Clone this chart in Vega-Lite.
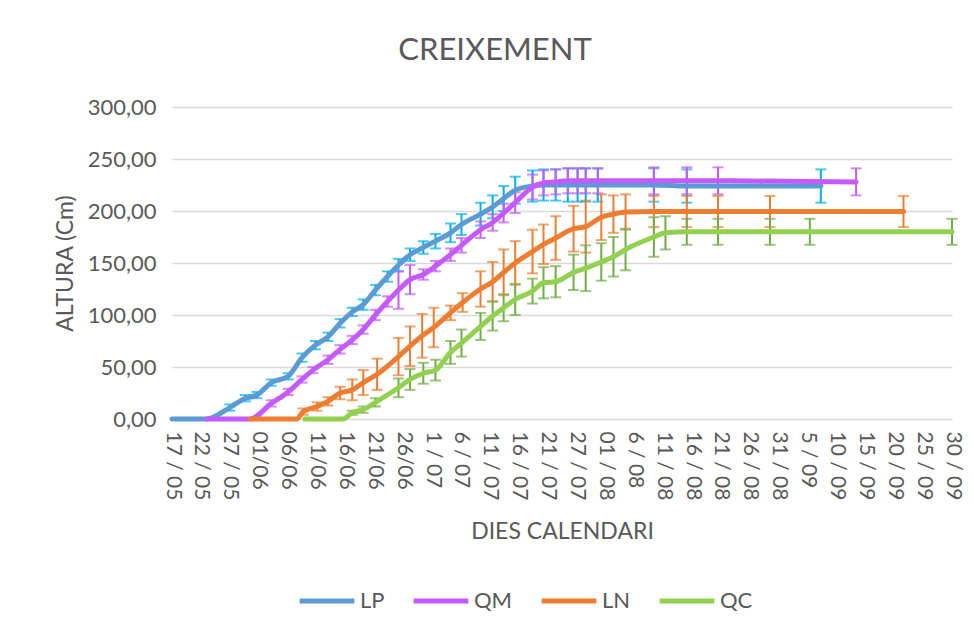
{
  "$schema": "https://vega.github.io/schema/vega-lite/v6.json",
  "width": 780,
  "height": 312,
  "autosize": {"type": "none"},
  "padding": {"left": 172, "top": 107, "right": 22, "bottom": 212},
  "background": "white",
  "config": {"font": "Lato", "view": {"stroke": null}},
  "title": {"text": "CREIXEMENT", "fontSize": 31, "fontWeight": "normal", "color": "#595959", "offset": 29, "dx": -67, "anchor": "middle"},
  "datasets": {
    "rows": [
      {"s": "LP", "d": 0, "v": 0, "e": 0},
      {"s": "LP", "d": 6, "v": 0, "e": 0},
      {"s": "LP", "d": 10, "v": 11, "e": 3},
      {"s": "LP", "d": 12.7, "v": 20, "e": 3},
      {"s": "LP", "d": 14.7, "v": 23, "e": 3},
      {"s": "LP", "d": 17.2, "v": 35, "e": 3},
      {"s": "LP", "d": 20.1, "v": 41, "e": 3},
      {"s": "LP", "d": 22.5, "v": 59, "e": 4},
      {"s": "LP", "d": 24.8, "v": 71, "e": 4},
      {"s": "LP", "d": 27, "v": 79, "e": 4},
      {"s": "LP", "d": 29.1, "v": 92, "e": 4},
      {"s": "LP", "d": 31.2, "v": 103, "e": 4},
      {"s": "LP", "d": 33.1, "v": 110, "e": 5},
      {"s": "LP", "d": 35.2, "v": 124, "e": 5},
      {"s": "LP", "d": 37.3, "v": 137, "e": 5},
      {"s": "LP", "d": 39.2, "v": 148, "e": 6},
      {"s": "LP", "d": 41.2, "v": 158, "e": 6},
      {"s": "LP", "d": 43.5, "v": 165, "e": 6},
      {"s": "LP", "d": 45.6, "v": 171, "e": 7},
      {"s": "LP", "d": 48.2, "v": 179, "e": 9},
      {"s": "LP", "d": 50.1, "v": 187, "e": 10},
      {"s": "LP", "d": 53.4, "v": 197, "e": 11},
      {"s": "LP", "d": 55.5, "v": 204, "e": 11},
      {"s": "LP", "d": 57.4, "v": 212, "e": 12},
      {"s": "LP", "d": 59.4, "v": 220, "e": 13},
      {"s": "LP", "d": 62.4, "v": 224, "e": 15},
      {"s": "LP", "d": 64.3, "v": 225, "e": 15},
      {"s": "LP", "d": 66.4, "v": 225, "e": 15},
      {"s": "LP", "d": 68.5, "v": 225, "e": 16},
      {"s": "LP", "d": 70.2, "v": 225, "e": 16},
      {"s": "LP", "d": 71.6, "v": 225, "e": 16},
      {"s": "LP", "d": 73.7, "v": 225, "e": 16},
      {"s": "LP", "d": 83.4, "v": 225, "e": 16},
      {"s": "LP", "d": 89.1, "v": 224, "e": 16},
      {"s": "LP", "d": 112.3, "v": 224, "e": 16},
      {"s": "QM", "d": 6, "v": 0, "e": 0},
      {"s": "QM", "d": 13.5, "v": 0, "e": 0},
      {"s": "QM", "d": 17.2, "v": 15, "e": 3},
      {"s": "QM", "d": 20.1, "v": 26, "e": 3},
      {"s": "QM", "d": 22.5, "v": 38, "e": 3},
      {"s": "QM", "d": 24.4, "v": 47, "e": 3},
      {"s": "QM", "d": 27, "v": 57, "e": 4},
      {"s": "QM", "d": 29.1, "v": 67, "e": 4},
      {"s": "QM", "d": 31.2, "v": 76, "e": 4},
      {"s": "QM", "d": 33.1, "v": 86, "e": 4},
      {"s": "QM", "d": 35.2, "v": 100, "e": 5},
      {"s": "QM", "d": 37.3, "v": 113, "e": 5},
      {"s": "QM", "d": 39.2, "v": 124, "e": 18},
      {"s": "QM", "d": 41.2, "v": 134, "e": 14},
      {"s": "QM", "d": 43.5, "v": 139, "e": 5},
      {"s": "QM", "d": 45.6, "v": 147, "e": 5},
      {"s": "QM", "d": 48.2, "v": 158, "e": 6},
      {"s": "QM", "d": 50.1, "v": 167, "e": 7},
      {"s": "QM", "d": 53.4, "v": 182, "e": 8},
      {"s": "QM", "d": 55.5, "v": 189, "e": 8},
      {"s": "QM", "d": 57.4, "v": 198, "e": 9},
      {"s": "QM", "d": 59.4, "v": 208, "e": 10},
      {"s": "QM", "d": 62.4, "v": 223, "e": 12},
      {"s": "QM", "d": 64.3, "v": 227, "e": 12},
      {"s": "QM", "d": 66.4, "v": 228, "e": 12},
      {"s": "QM", "d": 68.5, "v": 229, "e": 12},
      {"s": "QM", "d": 70.2, "v": 229, "e": 12},
      {"s": "QM", "d": 71.6, "v": 229, "e": 12},
      {"s": "QM", "d": 73.7, "v": 229, "e": 12},
      {"s": "QM", "d": 83.4, "v": 229, "e": 13},
      {"s": "QM", "d": 89.1, "v": 229, "e": 13},
      {"s": "QM", "d": 94.5, "v": 229, "e": 13},
      {"s": "QM", "d": 118.4, "v": 228, "e": 13},
      {"s": "LN", "d": 13.5, "v": 0, "e": 0},
      {"s": "LN", "d": 21.6, "v": 0, "e": 0},
      {"s": "LN", "d": 22.7, "v": 7, "e": 3},
      {"s": "LN", "d": 25.1, "v": 12, "e": 4},
      {"s": "LN", "d": 27, "v": 17, "e": 4},
      {"s": "LN", "d": 29.1, "v": 25, "e": 6},
      {"s": "LN", "d": 31.2, "v": 28, "e": 10},
      {"s": "LN", "d": 33.1, "v": 35, "e": 12},
      {"s": "LN", "d": 35.5, "v": 43, "e": 15},
      {"s": "LN", "d": 39.2, "v": 60, "e": 18},
      {"s": "LN", "d": 41.2, "v": 70, "e": 19},
      {"s": "LN", "d": 43.3, "v": 80, "e": 21},
      {"s": "LN", "d": 45.3, "v": 88, "e": 19},
      {"s": "LN", "d": 48.2, "v": 102, "e": 7},
      {"s": "LN", "d": 50.3, "v": 112, "e": 9},
      {"s": "LN", "d": 53.4, "v": 125, "e": 17},
      {"s": "LN", "d": 55.5, "v": 132, "e": 19},
      {"s": "LN", "d": 57.4, "v": 141, "e": 22},
      {"s": "LN", "d": 59.4, "v": 150, "e": 21},
      {"s": "LN", "d": 62.4, "v": 161, "e": 21},
      {"s": "LN", "d": 64.3, "v": 168, "e": 19},
      {"s": "LN", "d": 66.4, "v": 174, "e": 21},
      {"s": "LN", "d": 69.5, "v": 183, "e": 22},
      {"s": "LN", "d": 71.6, "v": 185, "e": 25},
      {"s": "LN", "d": 74.3, "v": 194, "e": 22},
      {"s": "LN", "d": 76.4, "v": 197, "e": 18},
      {"s": "LN", "d": 78.5, "v": 199, "e": 17},
      {"s": "LN", "d": 83.4, "v": 199.5, "e": 15},
      {"s": "LN", "d": 89.1, "v": 199.5, "e": 15},
      {"s": "LN", "d": 94.5, "v": 199.5, "e": 15},
      {"s": "LN", "d": 103.5, "v": 199.5, "e": 15},
      {"s": "LN", "d": 126.6, "v": 199.5, "e": 15},
      {"s": "QC", "d": 23, "v": 0, "e": 0},
      {"s": "QC", "d": 29.6, "v": 0, "e": 0},
      {"s": "QC", "d": 31.2, "v": 6, "e": 2},
      {"s": "QC", "d": 33.1, "v": 9, "e": 3},
      {"s": "QC", "d": 35.2, "v": 16, "e": 4},
      {"s": "QC", "d": 39.2, "v": 30, "e": 9},
      {"s": "QC", "d": 41.2, "v": 38, "e": 10},
      {"s": "QC", "d": 43.5, "v": 44, "e": 10},
      {"s": "QC", "d": 45.6, "v": 47, "e": 10},
      {"s": "QC", "d": 48.2, "v": 64, "e": 11},
      {"s": "QC", "d": 50.1, "v": 73, "e": 13},
      {"s": "QC", "d": 53.4, "v": 89, "e": 13},
      {"s": "QC", "d": 55.5, "v": 99, "e": 14},
      {"s": "QC", "d": 57.4, "v": 107, "e": 13},
      {"s": "QC", "d": 59.4, "v": 115, "e": 15},
      {"s": "QC", "d": 62.4, "v": 123, "e": 12},
      {"s": "QC", "d": 64.3, "v": 131, "e": 15},
      {"s": "QC", "d": 66.4, "v": 132, "e": 15},
      {"s": "QC", "d": 69.5, "v": 141, "e": 17},
      {"s": "QC", "d": 71.6, "v": 145, "e": 22},
      {"s": "QC", "d": 74.3, "v": 151, "e": 18},
      {"s": "QC", "d": 76.4, "v": 156, "e": 19},
      {"s": "QC", "d": 78.5, "v": 163, "e": 20},
      {"s": "QC", "d": 83.4, "v": 175, "e": 19},
      {"s": "QC", "d": 85.4, "v": 179, "e": 16},
      {"s": "QC", "d": 89.1, "v": 180, "e": 12.5},
      {"s": "QC", "d": 94.5, "v": 180, "e": 12.5},
      {"s": "QC", "d": 103.5, "v": 180, "e": 12.5},
      {"s": "QC", "d": 110.4, "v": 180, "e": 12.5},
      {"s": "QC", "d": 135, "v": 180, "e": 12.5}
    ]
  },
  "data": {"name": "rows"},
  "encoding": {
    "x": {
      "field": "d", "type": "quantitative",
      "scale": {"domain": [0, 135], "nice": false, "zero": false},
      "axis": {
        "values": [0, 5, 10, 15, 20, 25, 30, 35, 40, 45, 50, 55, 60, 65, 70, 75, 80, 85, 90, 95, 100, 105, 110, 115, 120, 125, 130, 135],
        "labelExpr": "['17 / 05','22 / 05','27 / 05','01/06','06/06','11/06','16/06','21/06','26/06','1 / 07','6 / 07','11 / 07','16 / 07','21 / 07','27 / 07','01 / 08','6 / 08','11 / 08','16 / 08','21 / 08','26 / 08','31 / 08','5 / 09','10 / 09','15 / 09','20 / 09','25 / 09','30 / 09'][round(datum.value / 5)]",
        "labelAngle": 90, "labelAlign": "left", "labelBaseline": "middle",
        "labelFontSize": 21, "labelColor": "#595959", "labelPadding": 12,
        "labelOverlap": false, "labelBound": false, "labelFlush": false,
        "domain": false, "ticks": false, "grid": false,
        "title": "DIES CALENDARI", "titleFontSize": 23, "titleFontWeight": "normal", "titleColor": "#595959", "titlePadding": 21
      }
    },
    "y": {
      "field": "v", "type": "quantitative",
      "scale": {"domain": [0, 300], "nice": false},
      "axis": {
        "values": [0, 50, 100, 150, 200, 250, 300],
        "labelExpr": "replace(format(datum.value, '.2f'), '.', ',')",
        "labelFontSize": 22, "labelColor": "#595959", "labelPadding": 16,
        "domain": false, "ticks": false,
        "grid": true, "gridColor": "#D9D9D9", "gridWidth": 1.5,
        "title": "ALTURA (Cm)", "titleFontSize": 23, "titleFontWeight": "normal", "titleColor": "#595959", "titlePadding": 10
      }
    }
  },
  "layer": [
    {
      "transform": [{"filter": "datum.e > 0"}],
      "mark": {"type": "errorbar", "ticks": {"size": 11}, "thickness": 2},
      "encoding": {
        "yError": {"field": "e"},
        "color": {"field": "s", "type": "nominal", "scale": {"domain": ["LP", "QM", "LN", "QC"], "range": ["#00B0F0", "#C45AFF", "#ED7D31", "#70AD47"]}, "legend": null}
      }
    },
    {
      "mark": {"type": "line", "strokeWidth": 5, "interpolate": "monotone", "strokeCap": "round", "strokeJoin": "round"},
      "encoding": {
        "color": {
          "field": "s", "type": "nominal",
          "scale": {"domain": ["LP", "QM", "LN", "QC"], "range": ["#5B9BD5", "#C45AFF", "#ED7D31", "#92D050"]},
          "legend": {
            "orient": "none", "legendX": 125, "legendY": 464, "direction": "horizontal", "title": null,
            "symbolType": "stroke", "symbolStrokeWidth": 5, "symbolSize": 3000,
            "labelFontSize": 22, "labelColor": "#595959", "columnPadding": 18, "labelOffset": 3
          }
        }
      }
    }
  ],
  "resolve": {"scale": {"color": "independent"}}
}
